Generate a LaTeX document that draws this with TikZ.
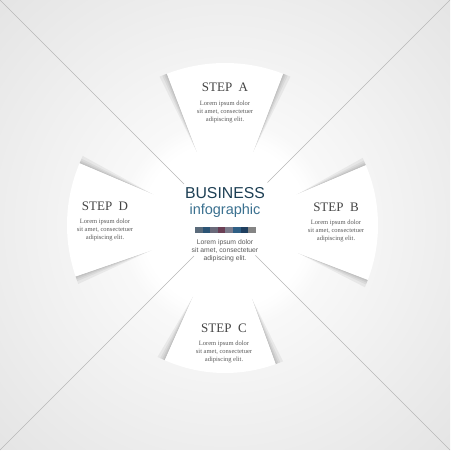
\documentclass[tikz,border=0pt]{standalone}
\usepackage{fontspec}
\setmainfont{Liberation Serif}
\setsansfont{Liberation Sans}
\usepackage{tikz}
\usetikzlibrary{calc}
\usetikzlibrary{fadings}
\usetikzlibrary{positioning}

\definecolor{bizNavy}{HTML}{1D3F54}
\definecolor{bizBlue}{HTML}{3B7190}
\definecolor{stepGray}{HTML}{454545}
\definecolor{loremGray}{HTML}{5A5A5A}
\definecolor{barA}{HTML}{5B6B7B}
\definecolor{barB}{HTML}{2C5475}
\definecolor{barC}{HTML}{6A6A7A}
\definecolor{barD}{HTML}{6B3F55}
\definecolor{barE}{HTML}{7C7C8C}
\definecolor{barF}{HTML}{2F5F85}
\definecolor{barG}{HTML}{1F3F5F}
\definecolor{barH}{HTML}{858585}

\pgfdeclareradialshading{bgGlow}{\pgfpoint{0bp}{0bp}}{%
  color(0bp)=(white); color(10bp)=(black!2); color(25bp)=(black!7);
  color(40bp)=(black!12); color(60bp)=(black!20)}

\begin{document}
\begin{tikzpicture}[
    x=1pt, y=1pt,
    flap/.style={fill=white},
    flapShade/.style={fill=black, opacity=0.055},
    foldLine/.style={draw=black!28, line width=0.5pt},
    stepTitle/.style={
        inner sep=0pt, text=stepGray,
        font=\fontsize{13}{13}\selectfont
    },
    stepText/.style={
        inner sep=0pt, align=center, text=loremGray,
        font=\fontsize{6.5}{8}\selectfont
    },
    centerText/.style={
        inner sep=0pt, align=center, text=loremGray,
        font=\sffamily\fontsize{6.8}{8.2}\selectfont
    }
]
\useasboundingbox (0,0) rectangle (450,470);
\fill[white] (0,0) rectangle (450,470);
\shade[shading=bgGlow] (0,20) rectangle (450,470);

\coordinate (c) at (225,245);
\coordinate (tl) at (0,470);
\coordinate (tr) at (450,470);
\coordinate (bl) at (0,20);
\coordinate (br) at (450,20);

% soft white middle
\fill[white, path fading=circle with fuzzy edge 20 percent] (c) circle[radius=105];

% fold lines
\draw[foldLine] (tl) -- ($(c)!58pt!(tl)$);
\draw[foldLine] (tr) -- ($(c)!60pt!(tr)$);
\draw[foldLine] (bl) -- ($(c)!44pt!(bl)$);
\draw[foldLine] (br) -- ($(c)!43pt!(br)$);

% shadows under the flaps
\foreach \ang/\rad/\dir in {69/162/-1, 111/162/1, 157/158/-1, 199/158/1,
                            246/148/-1, 290/148/1, -21/153/-1, 23/153/1} {
  \foreach \w in {1.5,3,5,8}
    \fill[flapShade, shift={(c)}] (\ang:78) -- (\ang:\rad) -- ++({\ang+\dir*90}:\w) -- cycle;
}

% the four flaps
\fill[flap, shift={(c)}] (69:76) -- (69:162) arc[start angle=69, end angle=111, radius=162] -- (111:76) -- cycle;
\fill[flap, shift={(c)}] (157:76) -- (157:158) arc[start angle=157, end angle=199, radius=158] -- (199:76) -- cycle;
\fill[flap, shift={(c)}] (246:76) -- (246:148) arc[start angle=246, end angle=290, radius=148] -- (290:76) -- cycle;
\fill[flap, shift={(c)}] (-21:76) -- (-21:153) arc[start angle=-21, end angle=23, radius=153] -- (23:76) -- cycle;

% step labels
\node[stepTitle] (stepA) at (225,383) {STEP\ \ A};
\node[stepText] (textA) at (225,358) {Lorem ipsum dolor\\sit amet, consectetuer\\adipiscing elit.};
\node[stepTitle] (stepB) at (336,263) {STEP\ \ B};
\node[stepText] (textB) at (336,239) {Lorem ipsum dolor\\sit amet, consectetuer\\adipiscing elit.};
\node[stepTitle] (stepC) at (224,142) {STEP\ \ C};
\node[stepText] (textC) at (224,118) {Lorem ipsum dolor\\sit amet, consectetuer\\adipiscing elit.};
\node[stepTitle] (stepD) at (105,264) {STEP\ \ D};
\node[stepText] (textD) at (105,240) {Lorem ipsum dolor\\sit amet, consectetuer\\adipiscing elit.};

% centre
\node[inner sep=0pt, text=bizNavy, font=\sffamily\fontsize{15.8}{16}\selectfont] (business) at (225,277) {BUSINESS};
\node[inner sep=0pt, text=bizBlue, font=\sffamily\fontsize{14.5}{15}\selectfont] (infographic) at (225,259) {infographic};
\foreach \col [count=\i] in {barA,barB,barC,barD,barE,barF,barG,barH}
  \fill[\col] ({195+(\i-1)*7.6},237) rectangle ++(7.6,6);
\node[centerText] (centerLorem) at (225,219) {Lorem ipsum dolor\\sit amet, consectetuer\\adipiscing elit.};
\end{tikzpicture}
\end{document}
